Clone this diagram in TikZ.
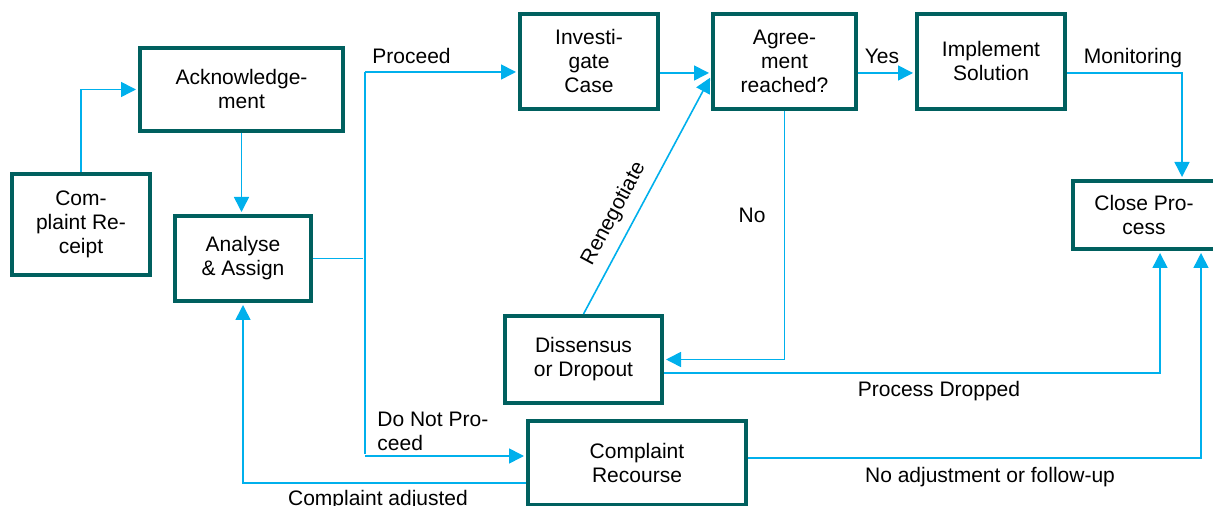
\documentclass[tikz,border=0pt]{standalone}
\usepackage{fontspec}
\setmainfont{Liberation Sans}
\usetikzlibrary{arrows.meta}
\definecolor{boxteal}{HTML}{00605F}
\definecolor{flowblue}{HTML}{00B0EC}
\tikzset{>={Triangle[width=7.5pt,length=7.5pt]}}
\tikzset{
  stage/.style={draw=boxteal, line width=2pt, fill=white, align=center,
    inner sep=0pt, font=\fontsize{10.5}{12}\selectfont},
  flow/.style={draw=flowblue, line width=0.8pt, shorten >=1pt},
  lbl/.style={inner sep=0pt, align=left, font=\fontsize{10.5}{12}\selectfont}
}

\begin{document}
\begin{tikzpicture}[x=0.5pt, y=-0.5pt]

  \useasboundingbox (0,0) rectangle (1213,506);

  % stages
  \node[stage, minimum width=69pt, minimum height=50.5pt] (rcpt) at (81,224.5) {Com-\\plaint Re-\\ceipt};
  \node[stage, minimum width=101.5pt, minimum height=41.5pt] (ack) at (241.5,89.5) {Acknowledge-\\ment};
  \node[stage, minimum width=68pt, minimum height=42.5pt] (anl) at (243,258.5) {Analyse\\\& Assign};
  \node[stage, minimum width=69pt, minimum height=47.5pt] (inv) at (589,61.5) {Investi-\\gate\\Case};
  \node[stage, minimum width=71.5pt, minimum height=47.5pt] (agr) at (784.5,61.5) {Agree-\\ment\\reached?};
  \node[stage, minimum width=74pt, minimum height=47.5pt] (impl) at (991,61.5) {Implement\\Solution};
  \node[stage, minimum width=71pt, minimum height=34pt] (close) at (1144,215) {Close Pro-\\cess};
  \node[stage, minimum width=78.5pt, minimum height=43.5pt] (diss) at (583.5,359.5) {Dissensus\\or Dropout};
  \node[stage, minimum width=109pt, minimum height=42pt] (recr) at (637,463) {Complaint\\Recourse};

  % bends of the connectors
  \coordinate (row) at (0,73);
  \coordinate (top) at (365,72);
  \coordinate (bot) at (365,456);
  \coordinate (mon) at (1182,73);
  \coordinate (drop) at (1160,373);
  \coordinate (noadj) at (1201,458);
  \coordinate (adj) at (243,483);

  \draw[flow, ->] (rcpt.north) |- (ack.west);
  \draw[flow, ->] (ack.south) -- (ack.south |- anl.north);

  % proceed / do not proceed
  \draw[flow] (anl.east) -- (anl.east -| top);
  \draw[flow] (top) -- (bot);
  \draw[flow, ->] (top) -- (top -| inv.west);
  \draw[flow, ->] (bot) -- (bot -| recr.west);

  \draw[flow, ->] (inv.east |- row) -- (agr.west |- row);
  \draw[flow, ->] (agr.east |- row) -- (impl.west |- row);
  \draw[flow, ->] (impl.east |- row) -- (mon) -- (mon |- close.north);

  \draw[flow, ->] (agr.south) |- (diss.east);
  \draw[flow, ->] (diss.north) -- node[lbl, sloped, above=5pt, pos=0.38]{Renegotiate} (agr.west |- 0,76);

  \draw[flow, ->] (diss.east |- drop) -- (drop) -- (drop |- close.south);
  \draw[flow, ->] (recr.east |- noadj) -- (noadj) -- (noadj |- close.south);
  \draw[flow, ->] (recr.west |- adj) -- (adj) -- (adj |- anl.south);

  % labels
  \node[lbl, anchor=base west] (lproc) at (372,64) {Proceed};
  \node[lbl, anchor=base west] (lnot) at (377,451) {Do Not Pro-\\ceed};
  \node[lbl, anchor=base] (lyes) at (882,64) {Yes};
  \node[lbl, anchor=base] (lmon) at (1133,64) {Monitoring};
  \node[lbl] (lno) at (752,215) {No};
  \node[lbl, anchor=base] (ldrop) at (939,397) {Process Dropped};
  \node[lbl, anchor=base] (lnoadj) at (990,482) {No adjustment or follow-up};
  \node[lbl, anchor=base] (ladj) at (378,505) {Complaint adjusted};

\end{tikzpicture}
\end{document}
